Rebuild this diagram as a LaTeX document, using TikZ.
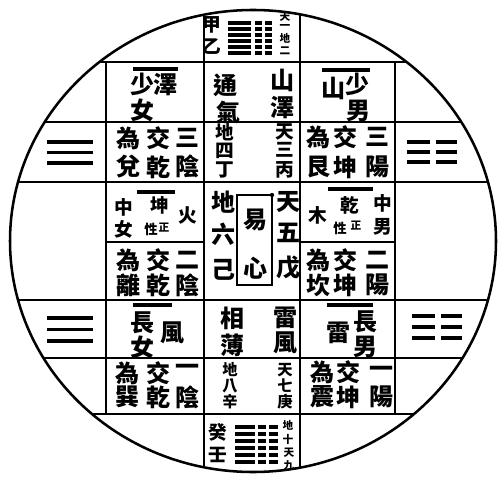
\documentclass[tikz,border=0pt]{standalone}
\usepackage{fontspec}
\newfontfamily\cjk{Noto Sans CJK TC}
\begin{document}
\begin{tikzpicture}[x=0.75pt,y=-0.75pt,
  chL/.style={inner sep=0pt, font=\cjk\bfseries\fontsize{18}{18}\selectfont},
  chM/.style={inner sep=0pt, font=\cjk\bfseries\fontsize{14}{14}\selectfont},
  chN/.style={inner sep=0pt, font=\cjk\bfseries\fontsize{11.5}{11.5}\selectfont},
  chT/.style={inner sep=0pt, font=\cjk\bfseries\fontsize{10}{10}\selectfont},
  chS/.style={inner sep=0pt, font=\cjk\bfseries\fontsize{8}{8}\selectfont},
  gridline/.style={line width=1.3pt},
  bar/.style={line width=2.4pt},
  yao/.style={line width=2.3pt},
  gua/.style={line width=2.7pt}]
\useasboundingbox (0,0) rectangle (499,477);
% grid
\begin{scope}
\clip (253,241) ellipse [x radius=182.25pt, y radius=173.25pt];
\foreach \y in {62,122,182,300,358,414} \draw[gridline] (0,\y) -- (499,\y);
\foreach \x in {204,300} \draw[gridline] (\x,0) -- (\x,477);
\end{scope}
\draw[gridline] (106,62) -- (106,414);
\draw[gridline] (395,62) -- (395,414);
\draw[gridline] (106,242) -- (204,242);
\draw[gridline] (300,242) -- (395,242);
\draw[line width=1.9pt] (253,241) ellipse [x radius=182.25pt, y radius=173.25pt];
% centre box
\draw[gridline] (237,195) rectangle (272,285);
\fill (272,195) circle [radius=1.6pt];
% bars
\draw[bar] (133,69) -- (178,69);
\draw[bar] (137,192) -- (175,192);
\draw[bar] (133,305) -- (172,305);
\draw[bar] (322,70) -- (370,70);
\draw[bar] (328,189) -- (373,189);
\draw[bar] (327,305) -- (373,305);
% hexagrams top and bottom
\foreach \y in {23,29,35,41,47,53} {
  \draw[yao] (228,\y) -- (251,\y);
  \draw[yao] (255,\y) -- (262,\y);
  \draw[yao] (265,\y) -- (272,\y);
}
\foreach \y in {427,434,441,448,455,462} {
  \draw[yao] (235,\y) -- (255,\y);
  \draw[yao] (258,\y) -- (266,\y);
  \draw[yao] (269,\y) -- (278,\y);
}
% side trigrams
\foreach \y in {142,152.5,163} \draw[gua] (47,\y) -- (93,\y);
\foreach \y in {318,329.5,341} \draw[gua] (47,\y) -- (93,\y);
\foreach \y in {142,152,162} {\draw[gua] (407,\y) -- (430,\y); \draw[gua] (436,\y) -- (457,\y);}
\foreach \y in {316,327,338} {\draw[gua] (412,\y) -- (435,\y); \draw[gua] (441,\y) -- (462,\y);}
% texts
\foreach \s/\t/\x/\y [count=\i] in {
  chL/澤/165/85, chL/少/142/84, chL/女/142/110,
  chL/為/128/138, chL/兌/128/167, chL/交/158/138, chL/乾/158/167, chL/三/187/138, chL/陰/187/166,
  chM/中/124/207, chM/女/124/229, chM/坤/160/205, chT/性/151/229, chS/正/164/228, chM/火/188/215,
  chL/為/128/260, chL/離/128/285, chL/交/158/260, chL/乾/158/285, chL/二/187/260, chL/陰/187/285,
  chL/長/142/323, chL/女/142/347, chL/風/172/333,
  chL/為/127/373, chL/巽/127/397, chL/交/158/373, chL/乾/158/397, chL/一/187/370, chL/陰/187/397,
  chL/山/333/88, chL/少/357/84, chL/男/358/111,
  chL/為/318/137, chL/艮/318/167, chL/交/345/137, chL/坤/345/167, chL/三/377/137, chL/陽/377/167,
  chM/乾/350/205, chM/中/383/203, chM/男/383/227, chM/木/318/215, chT/性/340/228, chS/正/356/226,
  chL/為/318/260, chL/坎/318/285, chL/交/345/260, chL/坤/345/285, chL/二/377/260, chL/陽/377/285,
  chL/雷/338/333, chL/長/365/322, chL/男/365/347,
  chL/為/322/372, chL/震/322/397, chL/交/348/372, chL/坤/348/397, chL/一/381/372, chL/陽/381/397,
  chL/通/225/85, chL/氣/228/112, chL/山/282/80, chL/澤/282/108,
  chM/地/225/132, chM/四/225/151, chM/丁/225/170, chM/天/285/132, chM/三/285/150, chM/丙/285/170,
  chL/地/223/202, chL/六/223/234, chL/己/223/270, chL/天/288/202, chL/五/288/233, chL/戊/288/268,
  chL/易/255/220, chL/心/255/268,
  chL/相/232/318, chL/薄/232/345, chL/雷/285/318, chL/風/285/343,
  chN/地/230/370, chN/八/230/386, chN/辛/230/402, chN/天/285/370, chN/七/285/386, chN/庚/285/402,
  chM/癸/218/432, chM/壬/218/455,
  chS/地/288/425, chS/十/288/439, chS/天/289/453, chS/九/289/466,
  chM/甲/212/25, chM/乙/212/47,
  chS/天/285/17, chS/一/285/27, chS/地/285/38, chS/二/285/51}
  \node[\s] (t\i) at (\x,\y) {\t};
\end{tikzpicture}
\end{document}
